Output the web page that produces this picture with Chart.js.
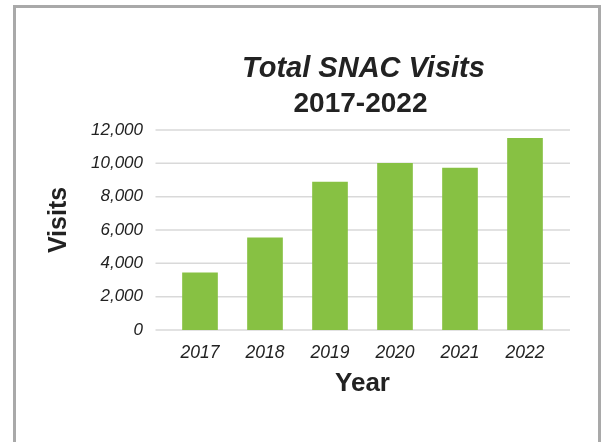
<!DOCTYPE html>
<html>
<head>
<meta charset="utf-8">
<script src="https://cdn.jsdelivr.net/npm/chart.js@4.4.0/dist/chart.umd.min.js"></script>
<style>
  body { margin: 0; background: #fff; }
  #wrap { position: relative; width: 605px; height: 442px; overflow: hidden; }
  #frame { position: absolute; left: 13px; top: 5px; width: 588px; height: 445px;
           border: 3px solid #a9a9a9; box-sizing: border-box; }
  canvas { position: absolute; left: 0; top: 0; }
</style>
</head>
<body>
<div id="wrap">
  <div id="frame"></div>
  <canvas id="myChart" width="605" height="442"></canvas>
</div>
<script>
var years = ['2017', '2018', '2019', '2020', '2021', '2022'];
var visits = [3430, 5530, 8880, 10000, 9720, 11500];
var titleLines = ['Total SNAC Visits', '2017-2022'];
var yTitle = 'Visits';
var xTitle = 'Year';

var FONT = '"Liberation Sans", Arial, Helvetica, sans-serif';
var INK = '#222';

// titles are centred over the plot, not over the canvas
var textPlugin = {
    id: 'texts',
    afterDraw: function (chart) {
        var c = chart.ctx, a = chart.chartArea;
        var cx = (a.left + a.right) / 2 + 1;
        c.save();
        c.fillStyle = INK;
        c.textAlign = 'center';
        c.textBaseline = 'alphabetic';
        c.font = 'italic bold 29px ' + FONT;
        c.fillText(titleLines[0], cx, 77);
        c.font = 'bold 28px ' + FONT;
        c.fillText(titleLines[1], cx - 3, 112);
        c.translate(59, 220);
        c.rotate(-Math.PI / 2);
        c.textBaseline = 'middle';
        c.font = 'bold 25px ' + FONT;
        c.fillText(yTitle, 0, 0);
        c.restore();
    }
};

// horizontal grid, a little wider than the bars' area
var gridPlugin = {
    id: 'grid',
    beforeDatasetsDraw: function (chart) {
        var c = chart.ctx, a = chart.chartArea, y = chart.scales.y;
        c.save();
        c.strokeStyle = '#d9d9d9';
        c.lineWidth = 1.5;
        y.ticks.forEach(function (t) {
            var py = y.getPixelForValue(t.value);
            c.beginPath();
            c.moveTo(a.left - 12, py);
            c.lineTo(a.right + 12.5, py);
            c.stroke();
        });
        c.restore();
    }
};

var ctx = document.getElementById('myChart').getContext('2d');
var chart = new Chart(ctx, {
    type: 'bar',
    data: {
        labels: years,
        datasets: [{
            label: 'Visits',
            data: visits,
            backgroundColor: '#87c143',
            barThickness: 35
        }]
    },
    plugins: [gridPlugin, textPlugin],
    options: {
        responsive: false,
        animation: false,
        layout: { padding: { top: 130, right: 47.5, left: 0, bottom: 0 } },
        plugins: {
            legend: { display: false },
            tooltip: { enabled: false }
        },
        scales: {
            x: {
                grid: { display: false },
                border: { display: false },
                ticks: { color: INK, padding: 5, font: { family: FONT, size: 17.5, style: 'italic' } },
                title: {
                    display: true,
                    text: xTitle,
                    color: INK,
                    padding: { top: 0, bottom: 43 },
                    font: { family: FONT, size: 26, weight: 'bold' }
                },
                afterFit: function (s) { s.height = 112; }
            },
            y: {
                min: 0,
                max: 12000,
                grid: { display: false },
                border: { display: false },
                ticks: { stepSize: 2000, color: INK, padding: 16.5, font: { family: FONT, size: 17, style: 'italic' } },
                afterFit: function (s) { s.width = 167.5; }
            }
        }
    }
});
</script>
</body>
</html>
